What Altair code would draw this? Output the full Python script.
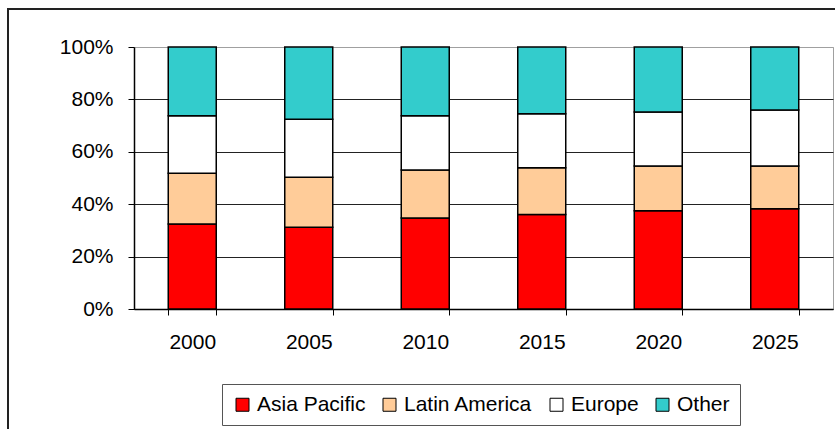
import altair as alt
import pandas as pd

years = ["2000", "2005", "2010", "2015", "2020", "2025"]
regions = ["Asia Pacific", "Latin America", "Europe", "Other"]
asia_pacific = [32.4, 31.2, 34.7, 36.1, 37.5, 38.3]
latin_america = [19.4, 19.1, 18.4, 17.8, 17.1, 16.3]
europe = [22.0, 22.1, 20.7, 20.6, 20.6, 21.4]
other = [26.2, 27.6, 26.2, 25.5, 24.8, 24.0]
colors = ["#FF0000", "#FFCC99", "#FFFFFF", "#33CCCC"]
y_ticks = [0, 0.2, 0.4, 0.6, 0.8, 1.0]

series = [asia_pacific, latin_america, europe, other]
rows = []
for ri, (name, vals) in enumerate(zip(regions, series)):
    for y, v in zip(years, vals):
        rows.append({"Year": y, "Region": name, "Share": v / 100.0, "Order": ri})
df = pd.DataFrame(rows)

FONT = "Liberation Sans"

bars = alt.Chart(df).mark_bar(stroke="#000000", strokeWidth=1.5).encode(
    x=alt.X(
        "Year:N",
        sort=years,
        title=None,
        scale=alt.Scale(paddingInner=0.588, paddingOuter=0.294),
        axis=alt.Axis(
            labelAngle=0,
            labelFont=FONT,
            labelFontSize=21,
            labelColor="#000000",
            labelPadding=16,
            tickBand="extent",
            tickSize=6,
            tickColor="#000000",
            domainColor="#000000",
            domainWidth=1.5,
            grid=False,
        ),
    ),
    y=alt.Y(
        "Share:Q",
        stack="zero",
        title=None,
        scale=alt.Scale(domain=[0, 1], nice=False),
        axis=alt.Axis(
            values=y_ticks,
            format=".0%",
            labelFont=FONT,
            labelFontSize=21,
            labelColor="#000000",
            labelPadding=15,
            tickSize=6,
            tickColor="#000000",
            domainColor="#000000",
            domainWidth=1.5,
            grid=True,
            gridColor={"condition": {"test": "datum.value >= 1", "value": "#a0a0a0"}, "value": "#222222"},
            gridWidth=1,
        ),
    ),
    color=alt.Color(
        "Region:N",
        scale=alt.Scale(domain=regions, range=colors),
        legend=alt.Legend(
            title=None,
            orient="none",
            direction="horizontal",
            columns=4,
            legendX=88,
            legendY=337,
            symbolType="square",
            symbolSize=169,
            symbolStrokeColor="#000000",
            symbolStrokeWidth=1,
            symbolOpacity=1,
            labelFont=FONT,
            labelFontSize=21,
            labelColor="#000000",
            labelOffset=4,
            columnPadding=13,
            padding=10,
            strokeColor="#555555",
            fillColor="#FFFFFF",
        ),
    ),
    order=alt.Order("Order:Q", sort="ascending"),
)

border = alt.Chart(pd.DataFrame({"a": [0]})).mark_rect(
    fill=None, stroke="#222222", strokeWidth=2, clip=False
).encode(
    x=alt.value(-126),
    x2=alt.value(720),
    y=alt.value(-38),
    y2=alt.value(400),
)

chart = alt.layer(bars, border).properties(
    width=699,
    height=262,
    padding={"left": 134, "top": 47, "right": 2, "bottom": 120},
    autosize=alt.AutoSizeParams(type="none"),
    background="#FFFFFF",
).configure_view(stroke="#a0a0a0", strokeWidth=1)

chart.save("out.html", embed_options={"renderer": "svg", "actions": False})
